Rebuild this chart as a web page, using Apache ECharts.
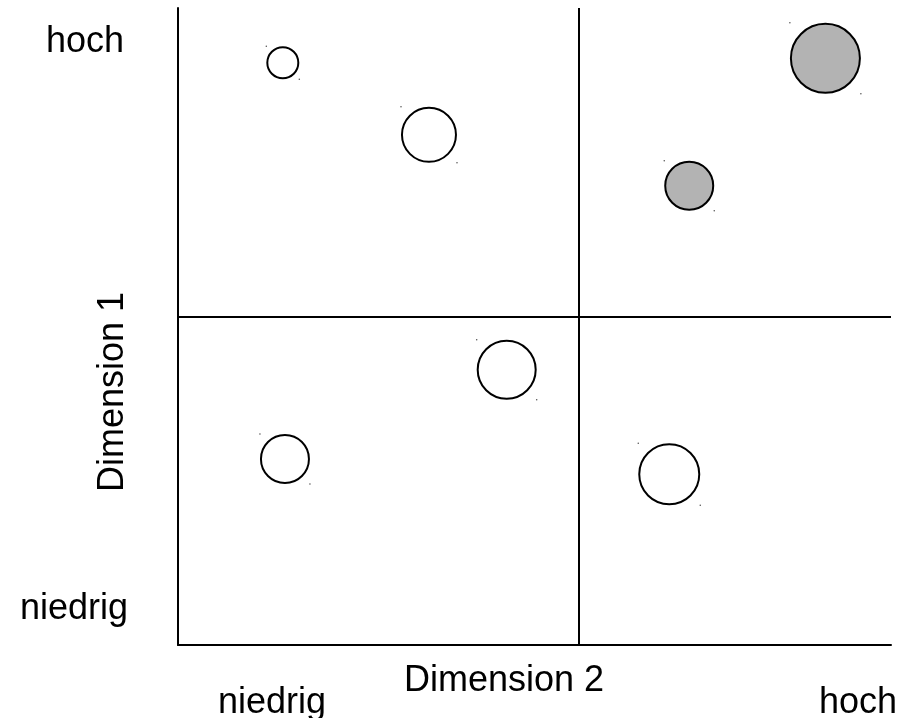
<!DOCTYPE html>
<html>
<head>
<meta charset="utf-8">
<script src="https://cdn.jsdelivr.net/npm/echarts@6/dist/echarts.min.js"></script>
<style>html,body{margin:0;padding:0;background:#fff}#c{width:921px;height:718px}</style>
</head>
<body>
<div id="c"></div>
<script>
// Data (x: Dimension 2, y: Dimension 1, size: bubble diameter)
const whiteX = [14.7, 35.2, 46.1, 15.0, 68.9];
const whiteY = [91.4, 80.1, 43.2, 29.2, 26.8];
const whiteSize = [31, 54, 58, 48, 60];
const grayX = [90.8, 71.7];
const grayY = [92.1, 72.1];
const graySize = [69, 48];
const xMid = 56.2;
const yMid = 51.5;
const xTickLabels = ['niedrig', 'hoch'];
const yTickLabels = ['niedrig', 'hoch'];
const xAxisName = 'Dimension 2';
const yAxisName = 'Dimension 1';

const FONT = '"Liberation Sans", Arial, Helvetica, sans-serif';
const FS = 36;

function pts(xs, ys, ss) { return xs.map((x, i) => [x, ys[i], ss[i]]); }
function dots(xs, ys, ss, sign) {
  return xs.map((x, i) => ({
    value: [x, ys[i]],
    symbolOffset: [sign * (ss[i] / 2 + 1), sign * (ss[i] / 2 + 1)]
  }));
}

const chart = echarts.init(document.getElementById('c'), null, { renderer: 'canvas' });
const axisCommon = {
  type: 'value', min: 0, max: 100,
  axisLine: { show: true, lineStyle: { color: '#000', width: 2 } },
  axisTick: { show: false }, axisLabel: { show: false }, splitLine: { show: false }
};
const txt = (t, x, y, rot) => ({
  type: 'text', x: x, y: y, rotation: rot || 0,
  style: { text: t, fill: '#000', font: FS + 'px ' + FONT, textAlign: 'center', textVerticalAlign: 'middle' }
});
chart.setOption({
  animation: false,
  backgroundColor: '#fff',
  grid: { left: 178, right: 30, top: 8, bottom: 73, containLabel: false },
  xAxis: Object.assign({}, axisCommon),
  yAxis: Object.assign({}, axisCommon),
  series: [
    {
      type: 'scatter', name: 'weiß', data: pts(whiteX, whiteY, whiteSize),
      symbolSize: d => d[2],
      itemStyle: { color: '#fff', borderColor: '#000', borderWidth: 2, opacity: 1 },
      markLine: {
        silent: true, symbol: 'none', label: { show: false },
        lineStyle: { color: '#000', width: 2, type: 'solid' },
        data: [{ xAxis: xMid }, { yAxis: yMid }]
      },
      z: 3
    },
    {
      type: 'scatter', name: 'grau', data: pts(grayX, grayY, graySize),
      symbolSize: d => d[2],
      itemStyle: { color: '#b3b3b3', borderColor: '#000', borderWidth: 2, opacity: 1 },
      z: 3
    },
    {
      type: 'scatter', name: 'p1', symbolSize: 1.5, silent: true,
      data: dots(whiteX.concat(grayX), whiteY.concat(grayY), whiteSize.concat(graySize), -1),
      itemStyle: { color: '#222' }, z: 4
    },
    {
      type: 'scatter', name: 'p2', symbolSize: 1.5, silent: true,
      data: dots(whiteX.concat(grayX), whiteY.concat(grayY), whiteSize.concat(graySize), 1),
      itemStyle: { color: '#222' }, z: 4
    }
  ],
  graphic: [
    txt(yTickLabels[1], 85, 42),
    txt(yTickLabels[0], 74, 609),
    txt(yAxisName, 113, 392, Math.PI / 2),
    txt(xAxisName, 504, 681),
    txt(xTickLabels[0], 272, 703),
    txt(xTickLabels[1], 858, 703)
  ]
});
</script>
</body>
</html>
